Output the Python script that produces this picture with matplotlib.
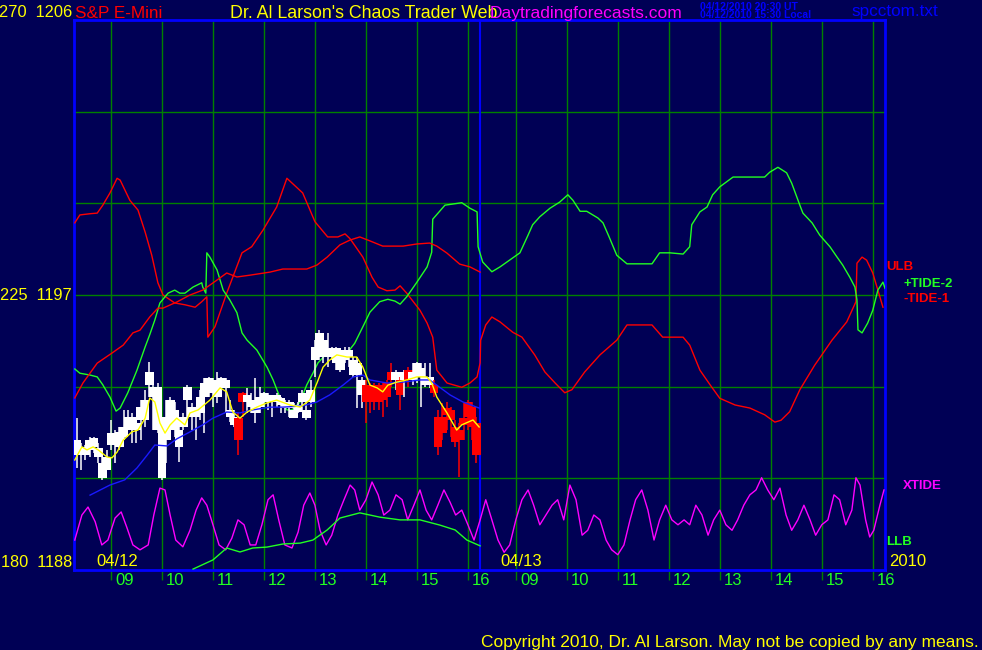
import matplotlib
matplotlib.use('Agg')
import matplotlib.pyplot as plt
import matplotlib.transforms as mtransforms

# colours used by the chart
BG = '#000055'
GRID = '#008000'
BORDER = '#0000ff'
LIME = '#22ff22'
RED = '#ff0000'
YELLOW = '#ffff00'
MAGENTA = '#ff00ff'
MA_BLUE = '#1a1aff'

FONT = ['Liberation Sans', 'DejaVu Sans']

# x axis is in "chart hours": day 1 clock hour as is, day 2 clock hour + DAY2
DAY2 = 7.94
DAY_SPLIT = 16.235
X_MIN, X_MAX = 8.275, 24.18
hours = [9, 10, 11, 12, 13, 14, 15, 16]
hour_labels = ['09', '10', '11', '12', '13', '14', '15', '16']

# price scale (right numbers) and tide scale (left numbers)
price_ticks = [1188, 1197, 1206]
tide_ticks = [180, 225, 270]
grid_prices = [1191, 1194, 1197, 1200, 1203]

# 5 minute bars of 04/12, first bar at 08:20
bar_hi = [1192.97, 1192.15, 1192.09, 1192.36, 1192.36, 1192.15, 1191.71, 1191.93, 1192.91, 1192.58,
          1192.69, 1193.24, 1193.24, 1193.13, 1192.91, 1193.56, 1193.89, 1194.82, 1194.22, 1194.11,
          1192.69, 1193.56, 1193.67, 1193.51, 1192.97, 1193.13, 1194.06, 1193.46, 1193.35, 1193.89,
          1194.27, 1194.33, 1194.27, 1194.49, 1194.33, 1194.27, 1193.56, 1193.24, 1193.13, 1193.84,
          1193.95, 1193.78, 1194.27, 1194.00, 1193.84, 1193.78, 1193.73, 1193.78, 1193.67, 1193.56,
          1193.56, 1193.46, 1193.51, 1193.89, 1193.78, 1194.22, 1195.53, 1195.86, 1195.75, 1195.75,
          1195.31, 1195.31, 1195.26, 1195.31, 1195.31, 1194.98, 1194.98, 1194.33, 1194.22, 1194.11,
          1194.11, 1194.11, 1194.11, 1194.22, 1194.77, 1194.55, 1194.33, 1194.55, 1194.66, 1194.77,
          1194.82, 1194.77, 1194.77, 1194.77, 1194.22, 1193.24, 1193.46, 1193.51, 1193.35, 1192.91,
          1192.80, 1193.46, 1193.56, 1193.51, 1193.02]
bar_lo = [1191.33, 1191.27, 1191.60, 1191.71, 1191.82, 1191.49, 1190.95, 1191.27, 1191.93, 1191.49,
          1191.93, 1192.26, 1192.58, 1192.15, 1192.15, 1192.26, 1192.69, 1193.67, 1192.58, 1192.47,
          1190.95, 1191.49, 1192.80, 1192.36, 1191.55, 1192.58, 1193.02, 1192.58, 1192.26, 1192.91,
          1192.47, 1193.67, 1193.35, 1193.46, 1193.78, 1193.13, 1192.86, 1192.69, 1191.76, 1193.02,
          1193.13, 1193.13, 1192.80, 1193.13, 1193.35, 1193.24, 1193.02, 1193.35, 1193.13, 1193.13,
          1193.02, 1192.97, 1193.13, 1193.24, 1192.91, 1193.35, 1194.33, 1194.87, 1194.77, 1194.66,
          1194.87, 1194.55, 1194.49, 1194.77, 1194.66, 1194.33, 1193.29, 1193.29, 1192.80, 1193.13,
          1193.24, 1193.24, 1193.02, 1193.35, 1194.00, 1193.89, 1193.24, 1193.67, 1194.00, 1194.06,
          1194.11, 1193.35, 1194.00, 1193.95, 1193.67, 1191.76, 1192.26, 1192.58, 1192.36, 1192.04,
          1191.06, 1192.26, 1192.58, 1192.26, 1191.49]
bar_open = [1191.76, 1191.76, 1191.76, 1191.93, 1192.04, 1191.71, 1191.00, 1191.27, 1192.09, 1192.15,
            1192.04, 1192.36, 1192.64, 1192.58, 1192.58, 1192.91, 1192.91, 1194.06, 1193.67, 1192.58,
            1191.00, 1192.26, 1193.02, 1192.58, 1192.04, 1192.69, 1193.56, 1193.02, 1193.02, 1193.13,
            1193.67, 1193.78, 1193.78, 1193.67, 1193.95, 1193.95, 1193.02, 1192.75, 1192.97, 1193.78,
            1193.51, 1193.35, 1193.13, 1193.35, 1193.51, 1193.51, 1193.51, 1193.51, 1193.40, 1193.29,
            1193.29, 1192.97, 1193.18, 1193.51, 1192.97, 1193.51, 1194.87, 1195.20, 1194.98, 1194.98,
            1194.98, 1194.77, 1194.55, 1194.87, 1194.98, 1194.38, 1194.38, 1193.73, 1194.06, 1194.06,
            1194.06, 1194.06, 1194.00, 1194.11, 1194.49, 1194.22, 1194.22, 1194.22, 1194.55, 1194.22,
            1194.44, 1194.33, 1194.06, 1194.06, 1194.06, 1193.02, 1193.02, 1193.29, 1193.24, 1192.69,
            1192.58, 1192.97, 1193.51, 1193.35, 1192.80]
bar_close = [1192.26, 1192.04, 1192.04, 1192.26, 1192.31, 1191.98, 1191.49, 1191.71, 1192.47, 1192.47,
             1192.53, 1192.69, 1193.02, 1193.02, 1192.80, 1193.35, 1193.56, 1194.49, 1194.00, 1194.00,
             1192.58, 1193.02, 1193.56, 1193.24, 1192.58, 1193.02, 1194.00, 1193.35, 1193.24, 1193.67,
             1194.11, 1194.27, 1194.22, 1194.11, 1194.27, 1194.22, 1193.24, 1193.02, 1192.26, 1193.51,
             1193.73, 1193.56, 1193.51, 1193.67, 1193.78, 1193.73, 1193.67, 1193.73, 1193.62, 1193.51,
             1193.51, 1193.24, 1193.40, 1193.78, 1193.24, 1193.89, 1195.31, 1195.75, 1195.53, 1195.20,
             1195.26, 1195.26, 1195.09, 1195.20, 1195.20, 1194.87, 1194.77, 1194.22, 1193.51, 1193.51,
             1193.51, 1193.51, 1193.56, 1193.67, 1194.22, 1194.49, 1193.73, 1194.49, 1194.22, 1194.49,
             1194.77, 1194.60, 1194.33, 1194.33, 1193.78, 1192.04, 1192.47, 1193.07, 1192.91, 1192.20,
             1192.26, 1192.75, 1193.02, 1192.69, 1191.76]

# moving averages of price (chart hours, price)
fast_t = [8.29, 8.43, 8.53, 8.65, 8.75, 8.92, 9.02, 9.12, 9.24, 9.41, 9.53, 9.67, 9.76, 9.86, 9.96,
          10.06, 10.16, 10.29, 10.45, 10.55, 10.71, 10.94, 11.14, 11.27, 11.39, 11.53, 11.67, 11.86,
          12.06, 12.25, 12.51, 12.71, 12.90, 13.04, 13.16, 13.29, 13.43, 13.63, 13.82, 13.94, 14.08,
          14.22, 14.33, 14.43, 14.61, 14.80, 15.00, 15.20, 15.29, 15.39, 15.59, 15.78, 15.88, 16.10,
          16.22]
fast_v = [1191.60, 1192.03, 1191.93, 1192.03, 1191.93, 1191.70, 1191.67, 1191.86, 1192.25, 1192.52,
          1192.58, 1192.97, 1193.63, 1193.50, 1192.81, 1192.48, 1192.75, 1192.97, 1192.75, 1193.14,
          1193.24, 1193.56, 1193.96, 1193.83, 1193.17, 1192.97, 1193.17, 1193.33, 1193.47, 1193.56,
          1193.40, 1193.33, 1193.56, 1194.12, 1194.64, 1194.87, 1195.04, 1194.97, 1194.97, 1194.64,
          1194.05, 1193.96, 1193.83, 1194.05, 1194.15, 1194.22, 1194.32, 1194.32, 1194.12, 1193.66,
          1193.14, 1192.58, 1192.75, 1192.91, 1192.68]
slow_t = [8.59, 8.98, 9.27, 9.51, 9.71, 9.86, 10.10, 10.29, 10.55, 10.80, 11.00, 11.27, 11.53, 11.78,
          12.12, 12.37, 12.76, 13.04, 13.29, 13.55, 13.75, 13.94, 14.08, 14.41, 14.73, 15.06, 15.25,
          15.39, 15.65, 15.90, 16.22]
slow_v = [1190.45, 1190.78, 1190.95, 1191.34, 1191.76, 1192.09, 1192.06, 1192.29, 1192.52, 1192.75,
          1192.97, 1193.17, 1193.14, 1193.24, 1193.33, 1193.33, 1193.37, 1193.50, 1193.73, 1194.05,
          1194.32, 1194.38, 1194.22, 1194.12, 1194.15, 1194.22, 1194.22, 1194.05, 1193.73, 1193.50,
          1193.30]

# price bands of 04/12 (price units)
ulb_t = [8.29, 8.45, 8.73, 9.02, 9.24, 9.43, 9.57, 9.76, 9.92, 10.02, 10.29, 10.55, 10.80, 11.08,
         11.27, 11.47, 11.73, 12.12, 12.37, 12.84, 13.04, 13.24, 13.49, 13.69, 13.88, 14.08, 14.33,
         14.73, 15.00, 15.25, 15.39, 15.59, 15.84, 16.04, 16.24]
ulb_v = [1193.63, 1194.12, 1194.77, 1195.10, 1195.36, 1195.76, 1195.85, 1196.28, 1196.57, 1196.57,
         1196.77, 1197.00, 1197.16, 1197.49, 1197.72, 1197.59, 1197.65, 1197.75, 1197.85, 1197.85,
         1197.98, 1198.24, 1198.64, 1198.80, 1198.90, 1198.77, 1198.60, 1198.60, 1198.67, 1198.70,
         1198.60, 1198.37, 1198.01, 1197.92, 1197.75]
llb_t = [10.61, 11.00, 11.27, 11.53, 11.78, 12.06, 12.37, 12.71, 12.96, 13.24, 13.49, 13.88, 14.27,
         14.67, 15.06, 15.45, 15.75, 15.98, 16.24]
llb_v = [1188.03, 1188.33, 1188.72, 1188.59, 1188.72, 1188.75, 1188.85, 1188.88, 1188.98, 1189.31,
         1189.70, 1189.87, 1189.73, 1189.64, 1189.64, 1189.47, 1189.31, 1188.98, 1188.79]

# tides (tide units, left scale)
tide1_t = [8.29, 8.39, 8.59, 8.73, 8.84, 8.98, 9.12, 9.18, 9.37, 9.53, 9.67, 9.80, 9.92, 10.02, 10.25,
           10.45, 10.65, 10.78, 10.88, 10.90, 11.04, 11.27, 11.57, 11.76, 11.98, 12.25, 12.45, 12.76,
           13.00, 13.25, 13.45, 13.59, 13.69, 13.94, 14.12, 14.24, 14.41, 14.57, 14.67, 14.80, 15.06,
           15.20, 15.31, 15.39, 15.59, 15.88, 16.04, 16.18, 16.24, 16.25, 16.35, 16.47, 16.63, 16.88,
           17.06, 17.31, 17.51, 17.71, 17.90, 18.04, 18.29, 18.59, 18.92, 19.12, 19.61, 19.82, 20.22,
           20.35, 20.55, 20.75, 20.94, 21.24, 21.53, 21.82, 22.02, 22.14, 22.31, 22.51, 22.80, 23.14,
           23.43, 23.61, 23.63, 23.73, 23.82, 23.94, 24.04, 24.14]
tide1_v = [236.8, 238.1, 238.3, 238.4, 239.7, 241.7, 244.1, 243.8, 240.5, 238.9, 235.3, 231.5, 227.0,
           225.0, 223.7, 223.4, 223.0, 223.9, 224.7, 218.1, 219.8, 225.3, 231.9, 232.9, 235.6, 239.4,
           244.1, 241.7, 237.0, 234.5, 234.5, 235.0, 234.2, 231.2, 227.9, 226.3, 225.7, 225.8, 226.5,
           225.3, 222.5, 220.4, 218.1, 212.7, 210.6, 209.9, 210.6, 211.6, 213.9, 217.6, 220.1, 221.4,
           220.6, 218.9, 218.1, 215.2, 212.4, 210.6, 209.0, 209.5, 212.4, 215.2, 217.6, 220.1, 220.1,
           218.1, 218.1, 216.8, 212.7, 210.3, 208.1, 207.0, 206.5, 205.4, 204.2, 204.5, 205.9, 209.5,
           213.5, 217.6, 220.6, 223.9, 230.2, 231.2, 230.7, 228.6, 225.8, 223.0]
tide2_t = [8.29, 8.39, 8.59, 8.73, 8.84, 8.98, 9.10, 9.18, 9.33, 9.51, 9.67, 9.76, 9.86, 9.96, 10.12,
           10.25, 10.35, 10.45, 10.61, 10.78, 10.80, 10.86, 10.88, 10.94, 11.08, 11.20, 11.33, 11.47,
           11.57, 11.67, 11.86, 12.06, 12.18, 12.31, 12.45, 12.55, 12.71, 12.84, 12.96, 13.06, 13.24,
           13.43, 13.63, 13.78, 13.94, 14.08, 14.27, 14.43, 14.57, 14.67, 14.80, 15.00, 15.20, 15.29,
           15.31, 15.55, 15.88, 16.04, 16.18, 16.20, 16.29, 16.47, 16.63, 17.02, 17.18, 17.27, 17.41,
           17.61, 17.80, 17.96, 18.06, 18.20, 18.33, 18.55, 18.65, 18.78, 18.92, 19.12, 19.61, 19.76,
           19.96, 20.22, 20.35, 20.39, 20.55, 20.69, 20.80, 20.94, 21.20, 21.82, 21.92, 22.08, 22.25,
           22.35, 22.51, 22.57, 22.75, 22.90, 23.10, 23.24, 23.35, 23.49, 23.59, 23.63, 23.65, 23.73,
           23.84, 23.94, 24.04, 24.14, 24.18]
tide2_v = [212.9, 212.2, 211.9, 211.6, 210.3, 208.3, 206.0, 206.5, 209.0, 212.7, 216.5, 218.5, 220.9,
           223.7, 225.3, 225.8, 225.3, 225.3, 226.3, 227.0, 226.3, 225.3, 231.9, 231.2, 229.1, 225.8,
           224.2, 222.1, 218.8, 217.6, 216.0, 213.2, 211.1, 208.3, 206.2, 206.2, 207.5, 210.3, 212.2,
           213.9, 215.5, 215.7, 215.5, 217.1, 219.8, 222.2, 223.9, 224.3, 224.0, 223.5, 224.7, 227.1,
           229.6, 232.0, 237.4, 239.7, 240.1, 239.2, 238.6, 232.9, 230.4, 228.8, 229.6, 231.9, 234.8,
           236.5, 237.8, 239.2, 240.2, 241.4, 240.5, 238.7, 238.7, 237.6, 236.8, 234.3, 231.5, 230.1,
           230.1, 231.9, 231.9, 231.7, 232.9, 236.5, 238.6, 239.4, 241.4, 242.7, 244.3, 244.3, 245.1,
           245.9, 245.0, 243.3, 239.7, 238.4, 236.8, 234.8, 232.9, 231.2, 229.9, 227.9, 226.3, 224.2,
           219.3, 218.8, 220.4, 222.5, 225.8, 227.1, 226.1]
xtide_t = [8.29, 8.43, 8.55, 8.69, 8.82, 8.94, 9.08, 9.20, 9.31, 9.43, 9.57, 9.73, 9.84, 9.96, 10.06,
           10.16, 10.27, 10.41, 10.55, 10.67, 10.78, 10.88, 11.00, 11.12, 11.25, 11.37, 11.49, 11.61,
           11.73, 11.84, 11.96, 12.08, 12.18, 12.29, 12.41, 12.55, 12.67, 12.78, 12.90, 13.00, 13.10,
           13.22, 13.33, 13.45, 13.57, 13.69, 13.78, 13.88, 14.00, 14.12, 14.24, 14.35, 14.47, 14.59,
           14.71, 14.82, 14.94, 15.06, 15.18, 15.29, 15.41, 15.53, 15.65, 15.76, 15.88, 16.00, 16.12,
           16.24, 16.35, 16.47, 16.59, 16.71, 16.82, 16.94, 17.06, 17.18, 17.29, 17.41, 17.53, 17.65,
           17.76, 17.88, 18.00, 18.12, 18.24, 18.35, 18.47, 18.59, 18.71, 18.82, 18.94, 19.06, 19.18,
           19.29, 19.41, 19.53, 19.65, 19.76, 19.88, 20.00, 20.12, 20.24, 20.35, 20.47, 20.59, 20.71,
           20.82, 20.94, 21.06, 21.18, 21.29, 21.41, 21.53, 21.65, 21.76, 21.88, 22.00, 22.12, 22.24,
           22.35, 22.47, 22.59, 22.71, 22.82, 22.94, 23.06, 23.18, 23.29, 23.41, 23.53, 23.61, 23.69,
           23.80, 23.88, 23.96, 24.08, 24.16]
xtide_v = [184.9, 189.0, 190.3, 187.9, 184.1, 184.9, 188.5, 189.5, 187.0, 184.1, 183.3, 184.1, 189.0,
           193.4, 193.1, 189.0, 184.9, 183.8, 186.5, 189.8, 191.8, 190.6, 187.4, 184.1, 183.3, 185.2,
           188.2, 187.4, 184.1, 184.1, 187.4, 191.5, 192.3, 188.2, 184.1, 183.6, 186.2, 190.6, 192.6,
           190.6, 186.5, 184.1, 185.7, 189.0, 191.5, 193.9, 193.1, 189.8, 191.5, 194.4, 192.3, 189.0,
           189.8, 192.3, 191.5, 188.2, 190.6, 193.1, 189.8, 188.2, 190.6, 193.1, 191.1, 189.0, 189.8,
           187.4, 184.9, 188.2, 191.5, 188.2, 184.9, 182.9, 184.1, 188.2, 191.5, 193.1, 190.6, 187.4,
           189.0, 190.6, 191.5, 188.2, 193.9, 191.5, 185.7, 186.5, 189.0, 188.2, 184.9, 183.3, 182.5,
           184.1, 188.2, 191.5, 193.1, 189.8, 184.9, 188.2, 190.6, 188.2, 187.4, 188.2, 187.4, 190.6,
           189.0, 185.7, 188.2, 189.8, 187.4, 186.5, 188.2, 190.6, 192.3, 193.1, 195.1, 193.1, 191.5,
           193.4, 189.0, 186.5, 188.2, 190.6, 188.2, 185.7, 187.4, 188.2, 192.3, 191.5, 187.4, 189.8,
           195.1, 193.9, 188.2, 185.4, 186.5, 190.6, 193.1]


def tide_to_price(values):
    # left scale 180..270 sits on the same height as price 1188..1206
    return [price_ticks[0] + (v - tide_ticks[0]) * (price_ticks[-1] - price_ticks[0]) /
            (tide_ticks[-1] - tide_ticks[0]) for v in values]


def draw_bars(ax):
    bar_t = [8 + 20 / 60 + i * 5 / 60 for i in range(len(bar_hi))]
    for t, hi, lo, o, c in zip(bar_t, bar_hi, bar_lo, bar_open, bar_close):
        col = 'white' if c >= o else RED
        ax.vlines(t, lo, hi, color=col, lw=1.1, zorder=4)
        ax.bar(t, max(abs(c - o), 0.08), bottom=min(o, c), width=0.17, color=col,
               linewidth=0, zorder=4)


fig = plt.figure(figsize=(9.82, 6.5), dpi=100, facecolor=BG)
ax = fig.add_axes([74 / 982, 80 / 650, 811 / 982, 550 / 650])
ax.set_facecolor(BG)
ax.set_xlim(X_MIN, X_MAX)
ax.set_ylim(price_ticks[0], price_ticks[-1])

# grid
hour_pos = hours + [h + DAY2 for h in hours]
for p in grid_prices:
    ax.axhline(p, color=GRID, lw=1.0, zorder=1)
ax.set_xticks(hour_pos)
ax.set_xticklabels([])
ax.set_yticks([])
ax.tick_params(axis='x', direction='out', length=7, width=1.0, color=GRID)
ax.grid(axis='x', color=GRID, lw=1.0, zorder=1)
ax.set_axisbelow(True)
for s in ax.spines.values():
    s.set_color(BORDER)
    s.set_linewidth(2)
ax.axvline(DAY_SPLIT, color=BORDER, lw=1.5, zorder=2)

# lines
ax.plot(tide1_t, tide_to_price(tide1_v), color=RED, lw=1, zorder=3)
ax.plot(tide2_t, tide_to_price(tide2_v), color=LIME, lw=1, zorder=3)
ax.plot(xtide_t, tide_to_price(xtide_v), color=MAGENTA, lw=1, zorder=3)
ax.plot(ulb_t, ulb_v, color=RED, lw=1, zorder=3)
ax.plot(llb_t, llb_v, color=LIME, lw=1, zorder=3)
draw_bars(ax)
ax.plot(slow_t, slow_v, color=MA_BLUE, lw=1, zorder=5)
ax.plot(fast_t, fast_v, color=YELLOW, lw=1, zorder=5)

# scale numbers on the left
ytrans = mtransforms.blended_transform_factory(fig.transFigure, ax.transData)
for tv, pv, va in zip(tide_ticks, price_ticks, ['bottom', 'center', 'bottom']):
    ax.text(72 / 982, pv, '%d  %d' % (tv, pv), transform=ytrans, ha='right', va=va,
            color=YELLOW, fontsize=11.8, family=FONT)

# hour numbers under the axis
for pos, lab in zip(hour_pos, hour_labels * 2):
    ax.annotate(lab, xy=(pos, 0), xycoords=('data', 'axes fraction'), xytext=(3, -2),
                textcoords='offset points', ha='left', va='top', color=LIME, fontsize=12,
                family=FONT, annotation_clip=False)

# date labels inside the plot
ax.annotate('04/12', xy=(X_MIN, 0), xycoords=('data', 'axes fraction'), xytext=(16, 3),
            textcoords='offset points', color=YELLOW, fontsize=12, family=FONT)
ax.annotate('04/13', xy=(DAY_SPLIT, 0), xycoords=('data', 'axes fraction'), xytext=(15, 3),
            textcoords='offset points', color=YELLOW, fontsize=12, family=FONT)
fig.text(889 / 982, 1 - 569 / 650, '2010', color=YELLOW, fontsize=12, family=FONT, va='bottom')

# legend names at the right
fig.text(886 / 982, 1 - 270 / 650, 'ULB', color=RED, fontsize=9.5, family=FONT, weight='bold')
fig.text(903 / 982, 1 - 287 / 650, '+TIDE-2', color=LIME, fontsize=9.5, family=FONT, weight='bold')
fig.text(903 / 982, 1 - 302 / 650, '-TIDE-1', color=RED, fontsize=9.5, family=FONT, weight='bold')
fig.text(903 / 982, 1 - 489 / 650, 'XTIDE', color=MAGENTA, fontsize=9.5, family=FONT, weight='bold')
fig.text(886 / 982, 1 - 545 / 650, 'LLB', color=LIME, fontsize=9.5, family=FONT, weight='bold')

# header
fig.text(75 / 982, 1 - 18 / 650, 'S&P E-Mini', color=RED, fontsize=12.3, family=FONT)
fig.text(230 / 982, 1 - 18 / 650, "Dr. Al Larson's Chaos Trader Web", color=YELLOW, fontsize=12.8,
         family=FONT)
fig.text(490 / 982, 1 - 18 / 650, 'Daytradingforecasts.com', color=MAGENTA, fontsize=12.5, family=FONT)
fig.text(700 / 982, 1 - 9.5 / 650, '04/12/2010 20:30 UT', color=BORDER, fontsize=7.5,
         family=FONT, weight='bold')
fig.text(700 / 982, 1 - 18.5 / 650, '04/12/2010 15:30 Local', color=BORDER, fontsize=7.5,
         family=FONT, weight='bold')
fig.text(851 / 982, 1 - 16 / 650, 'spcctom.txt', color=BORDER, fontsize=12.3, family=FONT)

fig.text(481 / 982, 1 - 647 / 650, 'Copyright 2010, Dr. Al Larson. May not be copied by any means.',
         color=YELLOW, fontsize=12.5, family=FONT)

fig.savefig('out.png', dpi=100, facecolor=BG)
